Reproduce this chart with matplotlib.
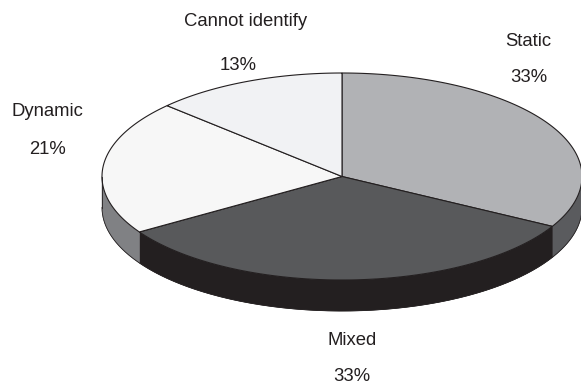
import numpy as np
import matplotlib.pyplot as plt
from matplotlib.patches import Polygon

plt.rcParams['font.family'] = ['Liberation Sans', 'DejaVu Sans']

labels = ["Static", "Mixed", "Dynamic", "Cannot identify"]
values = [33, 33, 21, 13]
top_colors = ["#b1b2b5", "#58595b", "#f7f7f7", "#f1f2f4"]
side_colors = ["#5a5b5e", "#231f20", "#808184", "#9a9b9e"]

# label anchor points (pixels, baselines) for name / percentage
label_pos = [(528, 46, 529, 82), (352, 345, 352, 381),
             (47, 116, 47, 154), (246, 26, 238, 70)]

cx, cy = 342, 176.5
a, b = 240, 103.5
depth = 31

fig = plt.figure(figsize=(5.81, 3.85), dpi=100)
ax = fig.add_axes([0, 0, 1, 1])
ax.set_xlim(0, 581)
ax.set_ylim(385, 0)
ax.axis('off')


def ell(t):
    return cx + a * np.cos(t), cy - b * np.sin(t)


fracs = np.array(values, dtype=float) / sum(values)
starts = np.pi / 2 - 2 * np.pi * np.concatenate([[0], np.cumsum(fracs)[:-1]])
ends = starts - 2 * np.pi * fracs

# side walls: only the front half of the rim is visible
for s, e, col in zip(starts, ends, side_colors):
    t = np.linspace(e, s, 300)
    t = t[np.sin(t) < 0]
    if len(t) < 2:
        continue
    x, y = ell(t)
    pts = np.vstack([np.column_stack([x, y]),
                     np.column_stack([x[::-1], y[::-1] + depth])])
    ax.add_patch(Polygon(pts, closed=True, facecolor=col, edgecolor=col, lw=0.4))

# rim outline on the bottom edge
t = np.linspace(np.pi, 2 * np.pi, 400)
x, y = ell(t)
ax.plot(x, y + depth, color="#231f20", lw=0.6)
ax.plot([cx - a, cx - a], [cy, cy + depth], color="#231f20", lw=0.6)
ax.plot([cx + a, cx + a], [cy, cy + depth], color="#231f20", lw=0.6)

# top faces
for s, e, col in zip(starts, ends, top_colors):
    t = np.linspace(s, e, 300)
    x, y = ell(t)
    pts = np.vstack([[cx, cy], np.column_stack([x, y])])
    ax.add_patch(Polygon(pts, closed=True, facecolor=col, edgecolor="#231f20", lw=0.8))

for lab, v, (nx, ny, px, py) in zip(labels, values, label_pos):
    ax.text(nx, ny, lab, ha='center', va='baseline', fontsize=13.3, color="#231f20")
    ax.text(px, py, f"{v}%", ha='center', va='baseline', fontsize=13.3, color="#231f20")

fig.savefig("out.png", dpi=100)
